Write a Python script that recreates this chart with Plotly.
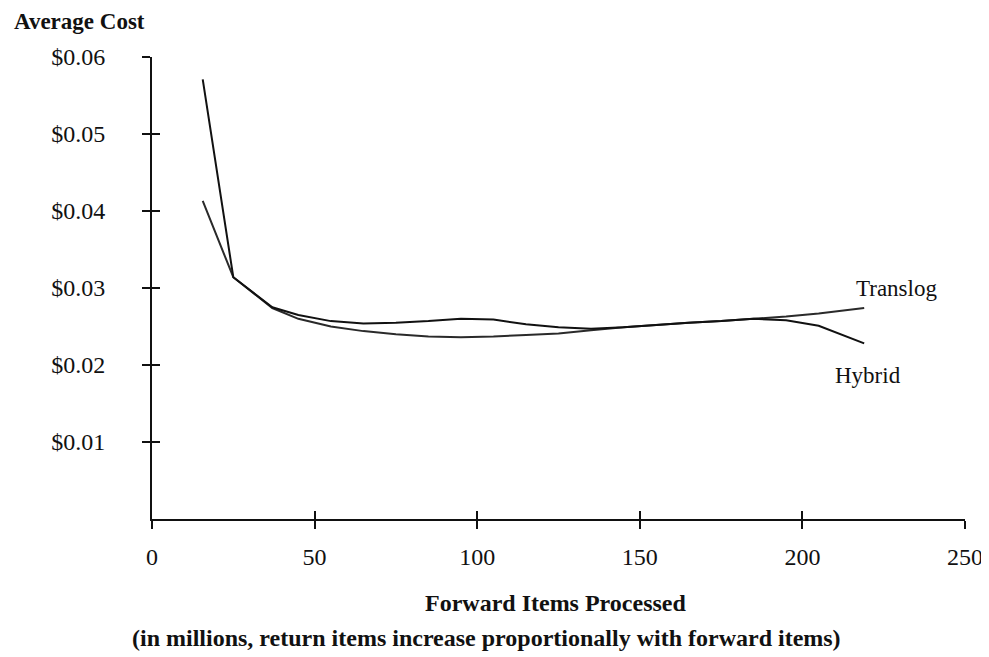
import plotly.graph_objects as go

# Data
items = [15.6, 25, 37, 45, 55, 65, 75, 85, 95, 105, 115, 125, 135, 145, 155, 165, 175, 185, 195, 205, 219]
hybrid = [0.0571, 0.0314, 0.0275, 0.0265, 0.0257, 0.0254, 0.0255, 0.0257, 0.0260, 0.0259, 0.0253,
          0.0249, 0.0247, 0.0249, 0.0252, 0.0255, 0.0257, 0.0260, 0.0258, 0.0251, 0.0228]
translog = [0.0413, 0.0314, 0.0274, 0.0260, 0.0250, 0.0244, 0.0240, 0.0237, 0.0236, 0.0237, 0.0239,
            0.0241, 0.0245, 0.0249, 0.0252, 0.0255, 0.0257, 0.0260, 0.0263, 0.0267, 0.0274]
x_ticks = [0, 50, 100, 150, 200, 250]
y_ticks = [0.01, 0.02, 0.03, 0.04, 0.05, 0.06]
x_range = [0, 250]
y_range = [0, 0.06]

FONT = "Liberation Serif"

fig = go.Figure()
fig.add_trace(go.Scatter(x=items, y=translog, mode="lines", name="Translog",
                         line=dict(color="#2a2a2a", width=2), xaxis="x", yaxis="y"))
fig.add_trace(go.Scatter(x=items, y=hybrid, mode="lines", name="Hybrid",
                         line=dict(color="#111111", width=2), xaxis="x2", yaxis="y2"))

axis_common = dict(showgrid=False, zeroline=False, automargin=False)
fig.update_layout(
    width=981, height=649,
    margin=dict(l=144, r=24, t=49, b=138),
    paper_bgcolor="white", plot_bgcolor="white",
    showlegend=False,
    font=dict(family=FONT, color="#111111", size=24),
    xaxis=dict(range=x_range, tickvals=x_ticks, ticks="outside", ticklen=8, tickwidth=1.5,
               tickcolor="#111111", showline=True, linecolor="#111111", linewidth=2,
               ticklabelstandoff=7, tickfont=dict(size=24, family=FONT), **axis_common),
    yaxis=dict(range=y_range, tickvals=y_ticks, tickformat="$.2f", ticks="outside", ticklen=8,
               tickwidth=1.5, tickcolor="#111111", showline=True, linecolor="#111111", linewidth=2,
               ticklabelstandoff=32, tickfont=dict(size=24, family=FONT), **axis_common),
    xaxis2=dict(range=x_range, tickvals=x_ticks, ticks="inside", ticklen=8, tickwidth=1.5,
                tickcolor="#111111", showticklabels=False, overlaying="x", anchor="y2",
                showline=False, **axis_common),
    yaxis2=dict(range=y_range, tickvals=y_ticks, ticks="inside", ticklen=8, tickwidth=1.5,
                tickcolor="#111111", showticklabels=False, overlaying="y", anchor="x2",
                showline=False, **axis_common),
    annotations=[
        dict(text="<b>Average Cost</b>", xref="paper", yref="paper", x=-0.172, y=1.0758,
             xanchor="left", yanchor="middle", showarrow=False, font=dict(size=23, family=FONT)),
        dict(text="<b>Forward Items Processed</b>", xref="paper", yref="paper", x=0.496, y=-0.182,
             xanchor="center", yanchor="middle", showarrow=False, font=dict(size=24, family=FONT)),
        dict(text="<b>(in millions, return items increase proportionally with forward items)</b>",
             xref="paper", yref="paper", x=0.411, y=-0.258, xanchor="center", yanchor="middle",
             showarrow=False, font=dict(size=24, family=FONT)),
        dict(text="Translog", x=228.8, y=0.030, xref="x", yref="y", showarrow=False,
             font=dict(size=23, family=FONT)),
        dict(text="Hybrid", x=220.2, y=0.0187, xref="x", yref="y", showarrow=False,
             font=dict(size=23, family=FONT)),
    ],
)

fig.write_html("out.html")
